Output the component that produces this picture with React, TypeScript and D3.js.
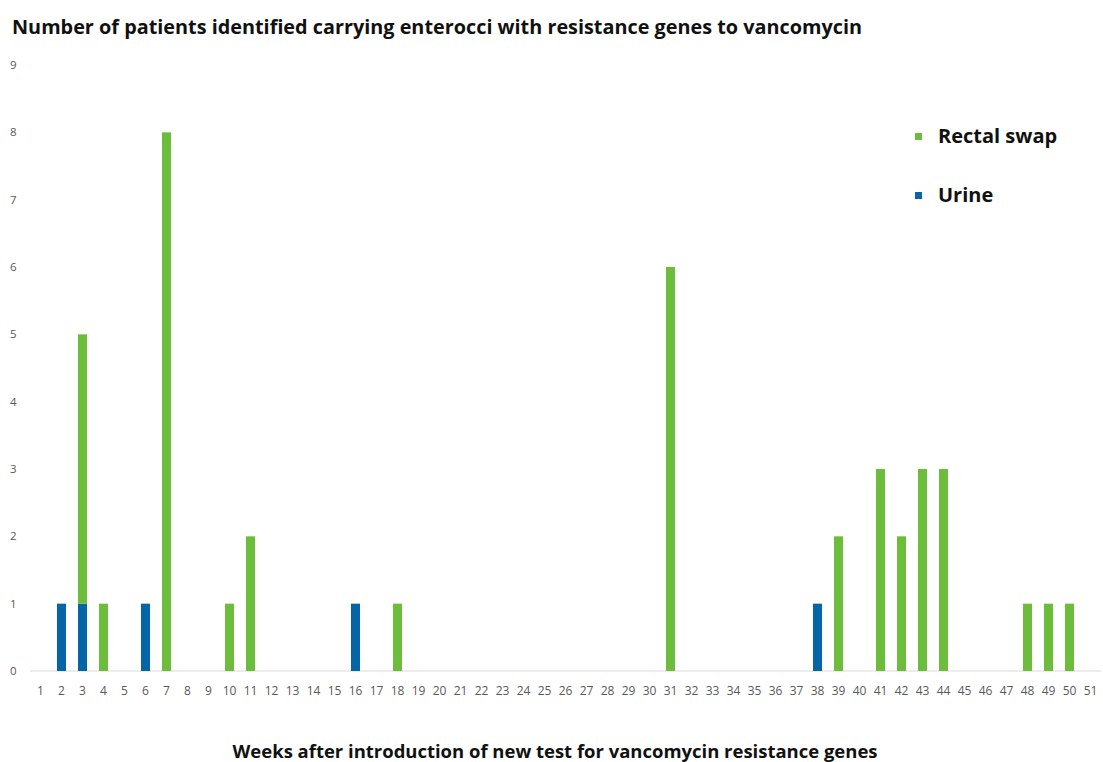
import React from "react";
import * as d3 from "d3";

const weeks: number[] = d3.range(1, 52);
const urineWeeks = [2, 3, 6, 16, 38];
const urineValues = [1, 1, 1, 1, 1];
const rectalWeeks = [3, 4, 7, 10, 11, 18, 31, 39, 41, 42, 43, 44, 48, 49, 50];
const rectalValues = [4, 1, 8, 1, 2, 1, 6, 2, 3, 2, 3, 3, 1, 1, 1];
const yTicks = [0, 1, 2, 3, 4, 5, 6, 7, 8, 9];
const seriesNames = ["Rectal swap", "Urine"];

const GREEN = "#6cbd3c";
const BLUE = "#0565a6";
const W = 1103;
const H = 762;

export default function App() {
  const x = d3.scaleBand<number>().domain(weeks).range([30, 1101]).paddingInner(0.57).paddingOuter(0.285);
  const y = d3.scaleLinear().domain([0, 9]).range([671, 65]);

  const urineMap = new Map(urineWeeks.map((w, i) => [w, urineValues[i]]));
  const rectalMap = new Map(rectalWeeks.map((w, i) => [w, rectalValues[i]]));
  const rows = weeks.map((w) => ({ week: w, urine: urineMap.get(w) ?? 0, rectal: rectalMap.get(w) ?? 0 }));
  const stack = d3.stack<any>().keys(["urine", "rectal"])(rows);
  const colors: Record<string, string> = { urine: BLUE, rectal: GREEN };

  const font = "'Open Sans', 'Liberation Sans', sans-serif";

  return (
    <svg width={W} height={H} style={{ position: "absolute", left: 0, top: 0, background: "#fff" }} fontFamily={font}>
      <rect width={W} height={H} fill="#fff" />
      <text x={12} y={34} fontSize={19.8} fontWeight="bold" fill="#111" textLength={850} lengthAdjust="spacingAndGlyphs">
        Number of patients identified carrying enterocci with resistance genes to vancomycin
      </text>
      {yTicks.map((t) => (
        <text key={t} x={10} y={y(t) + 4} fontSize={11.5} fill="#595959">
          {t}
        </text>
      ))}
      <line x1={30} x2={1101} y1={y(0)} y2={y(0)} stroke="#d9d9d9" strokeWidth={1} />
      {stack.map((s) =>
        s.map((d: any, i: number) =>
          d[1] - d[0] > 0 ? (
            <rect
              key={s.key + i}
              x={x(d.data.week)}
              width={x.bandwidth()}
              y={y(d[1])}
              height={y(d[0]) - y(d[1])}
              fill={colors[s.key]}
            />
          ) : null
        )
      )}
      {weeks.map((w) => (
        <text key={w} x={(x(w) ?? 0) + x.bandwidth() / 2} y={695} fontSize={12} fill="#595959" textAnchor="middle">
          {w}
        </text>
      ))}
      <text x={555} y={758} fontSize={18.5} fontWeight="bold" fill="#111" textAnchor="middle" textLength={645} lengthAdjust="spacingAndGlyphs">
        Weeks after introduction of new test for vancomycin resistance genes
      </text>
      {seriesNames.map((n, i) => (
        <g key={n} transform={`translate(915, ${137 + i * 59})`}>
          <rect x={0} y={-4} width={7} height={7} fill={i === 0 ? GREEN : BLUE} />
          <text x={23} y={6} fontSize={20} fontWeight="bold" fill="#111">
            {n}
          </text>
        </g>
      ))}
    </svg>
  );
}
